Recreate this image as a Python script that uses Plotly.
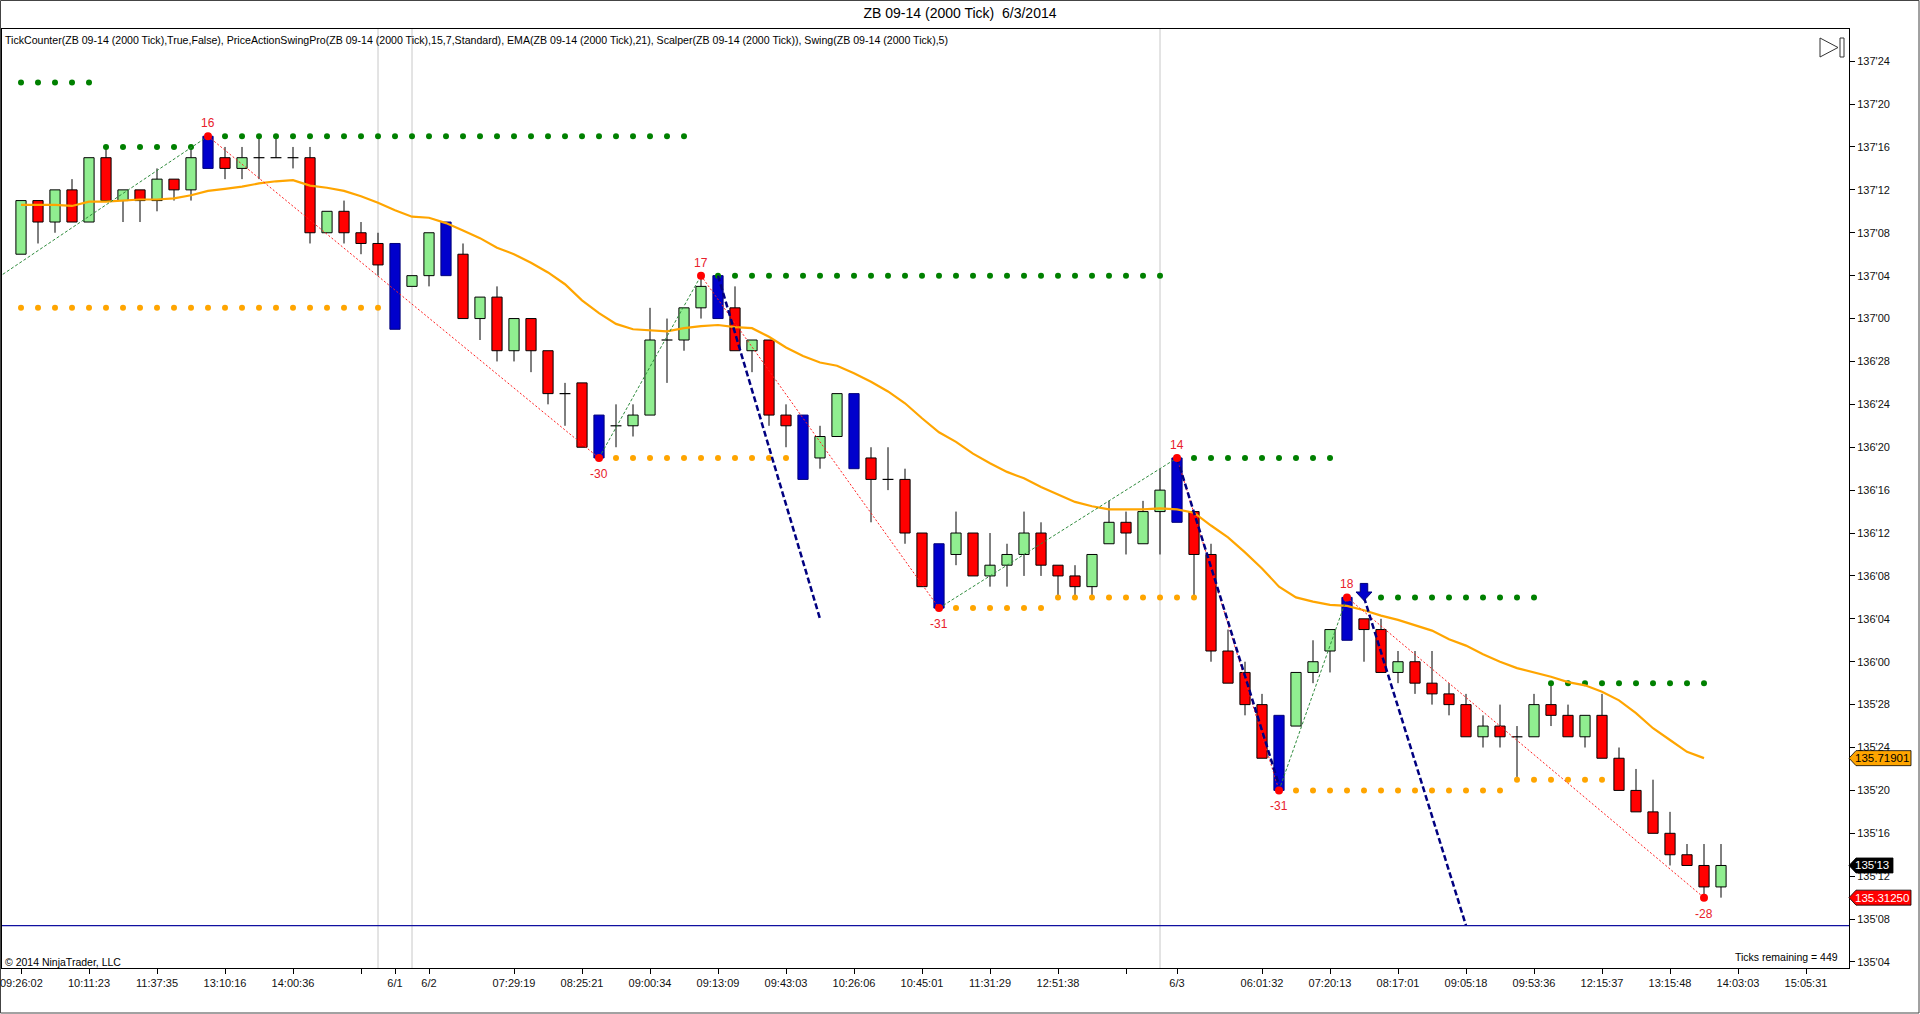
import plotly.graph_objects as go

# ZB 09-14, 2000 tick bars. Prices kept in 32nds above 135'00
opens  = [70, 75, 73, 76, 73, 79, 75, 76, 75, 77, 76, 78, 79, 78, 79, 79, 79, 79, 72, 74,
          72, 71, 71, 67, 68, 72, 70, 64, 66, 61, 64, 61, 57, 58, 54, 54, 54, 55, 62, 62,
          65, 67, 65, 61, 62, 55, 54, 51, 53, 57, 51, 49, 49, 44, 42, 42, 44, 40, 41, 42,
          44, 41, 40, 39, 43, 45, 43, 46, 48, 46, 42, 33, 31, 28, 26, 26, 31, 33, 36, 36,
          35, 31, 32, 30, 29, 28, 25, 26, 25, 25, 28, 27, 25, 27, 23, 20, 18, 16, 14, 13, 11]
highs  = [75, 75, 76, 77, 79, 80, 76, 76, 78, 77, 80, 81, 80, 80, 81, 81, 80, 80, 74, 75,
          73, 72, 71, 68, 72, 73, 71, 66, 67, 64, 64, 61, 58, 58, 55, 56, 56, 65, 64, 65,
          68, 68, 67, 62, 62, 56, 55, 54, 57, 57, 52, 52, 50, 44, 43, 46, 44, 44, 43, 46,
          45, 41, 41, 42, 47, 46, 47, 50, 51, 46, 43, 35, 32, 29, 27, 31, 34, 35, 38, 36,
          36, 33, 33, 33, 30, 29, 27, 28, 26, 29, 30, 28, 27, 29, 24, 22, 21, 18, 15, 15, 15]
lows   = [70, 71, 72, 73, 73, 75, 73, 73, 74, 75, 75, 78, 77, 77, 77, 79, 78, 71, 72, 71,
          70, 68, 63, 67, 67, 68, 64, 62, 60, 60, 59, 56, 54, 52, 51, 52, 53, 55, 58, 61,
          64, 64, 61, 59, 54, 52, 49, 50, 53, 50, 45, 48, 43, 39, 37, 41, 40, 39, 39, 40,
          40, 38, 38, 38, 43, 42, 43, 42, 45, 38, 32, 30, 27, 23, 20, 26, 30, 31, 34, 32,
          31, 30, 29, 28, 27, 25, 24, 24, 21, 25, 26, 25, 24, 23, 20, 18, 16, 13, 13, 10, 10]
closes = [75, 73, 76, 73, 79, 75, 76, 75, 77, 76, 79, 79, 78, 79, 79, 79, 79, 72, 74, 72,
          71, 69, 67, 68, 72, 70, 64, 66, 61, 64, 61, 57, 57, 52, 52, 54, 55, 62, 62, 65,
          67, 65, 61, 62, 55, 54, 51, 53, 57, 51, 49, 49, 44, 39, 39, 44, 40, 41, 42, 44,
          41, 40, 39, 42, 45, 44, 46, 48, 46, 42, 33, 30, 28, 23, 23, 31, 32, 35, 35, 35,
          31, 32, 30, 29, 28, 25, 26, 25, 25, 28, 27, 25, 27, 23, 20, 18, 16, 14, 13, 11, 13]

# bars painted blue by the Scalper indicator
blue_bars = [11, 22, 25, 34, 41, 46, 49, 54, 68, 74, 78]

# EMA(21) (no value on the forming bar)
ema21 = [74.6, 74.6, 74.6, 74.5, 74.9, 74.9, 75.0, 75.1, 75.1, 75.2, 75.5, 75.9, 76.1, 76.3,
         76.6, 76.8, 76.9, 76.4, 76.2, 75.9, 75.4, 74.8, 74.1, 73.5, 73.4, 72.9, 72.2, 71.5,
         70.6, 70.0, 69.2, 68.3, 67.2, 65.7, 64.5, 63.5, 63.0, 62.9, 62.8, 63.1, 63.3, 63.4,
         63.2, 63.1, 62.3, 61.3, 60.5, 59.9, 59.6, 58.9, 58.1, 57.2, 56.1, 54.7, 53.4, 52.5,
         51.4, 50.5, 49.7, 49.1, 48.3, 47.6, 46.9, 46.5, 46.2, 46.2, 46.2, 46.3, 46.2, 45.9,
         44.7, 43.6, 42.2, 40.7, 39.0, 38.0, 37.6, 37.3, 37.2, 36.8, 36.3, 35.9, 35.4, 34.9,
         34.1, 33.5, 32.7, 32.0, 31.4, 31.0, 30.6, 30.1, 29.8, 29.2, 28.4, 27.2, 25.8, 24.7,
         23.6, 23.0083]

tick_pos = [0, 4, 8, 12, 16, 20, 22, 24, 29, 33, 37, 41, 45, 49, 53, 57, 61, 65, 68,
            73, 77, 81, 85, 89, 93, 97, 101, 105]
tick_text = ["09:26:02", "10:11:23", "11:37:35", "13:10:16", "14:00:36", "", "6/1", "6/2",
             "07:29:19", "08:25:21", "09:00:34", "09:13:09", "09:43:03", "10:26:06",
             "10:45:01", "11:31:29", "12:51:38", "", "6/3", "06:01:32", "07:20:13",
             "08:17:01", "09:05:18", "09:53:36", "12:15:37", "13:15:48", "14:03:03", "15:05:31"]
session_breaks = [21, 23, 67]

# Swing(5) levels: level, first bar, last bar
swing_hi_lvl  = [86, 80, 81, 68, 51, 38, 30]
swing_hi_from = [0, 5, 12, 41, 69, 80, 90]
swing_hi_to   = [4, 10, 39, 67, 77, 89, 99]
swing_lo_lvl  = [65, 51, 37, 38, 20, 21]
swing_lo_from = [0, 35, 55, 61, 75, 88]
swing_lo_to   = [21, 45, 60, 69, 87, 93]

# PriceActionSwingPro pivots and swing sizes
pivot_bar = [-4, 11, 34, 40, 54, 68, 74, 78, 99]
pivot_lvl = [65, 81, 51, 68, 37, 51, 20, 38, 10]
pivot_lbl = ["", "16", "-30", "17", "-31", "14", "-31", "18", "-28"]

# dashed projection lines
proj_bar0 = [41, 68, 79]
proj_lvl0 = [68, 51, 38]
proj_bar1 = [47, 74, 85]
proj_lvl1 = [36, 20.5, 7.4]

arrow_bar, arrow_top, arrow_tip = 79, 39.3, 37.7
order_lvl = 7.4

FONT = "Liberation Sans, Arial, sans-serif"


def P(t):
    return 135 + t / 32.0


def fmt32(p):
    whole = int(p)
    return f"{whole}'{int(round((p - whole) * 32)):02d}"


fig = go.Figure()

# wicks (drawn outside the bodies so they never cross them)
wx, wy = [], []
dx, dy = [], []
for i, (o, h, l, c) in enumerate(zip(opens, highs, lows, closes)):
    if i in blue_bars:
        continue
    top, bot = max(o, c), min(o, c)
    if o == c:
        wx += [i, i, None]
        wy += [P(l), P(h), None]
        dx += [i - 0.32, i + 0.32, None]
        dy += [P(o), P(o), None]
        continue
    if h > top:
        wx += [i, i, None]
        wy += [P(top), P(h), None]
    if l < bot:
        wx += [i, i, None]
        wy += [P(l), P(bot), None]
fig.add_trace(go.Scatter(x=wx, y=wy, mode="lines", line=dict(color="black", width=1),
                         hoverinfo="skip", showlegend=False))
fig.add_trace(go.Scatter(x=dx, y=dy, mode="lines", line=dict(color="black", width=1.2),
                         hoverinfo="skip", showlegend=False))

up = [i for i in range(len(opens)) if i not in blue_bars and closes[i] > opens[i]]
dn = [i for i in range(len(opens)) if i not in blue_bars and closes[i] < opens[i]]
for idx, col in ((up, "#90EE90"), (dn, "#FF0000")):
    fig.add_trace(go.Bar(
        x=idx,
        base=[P(min(opens[i], closes[i])) for i in idx],
        y=[P(max(opens[i], closes[i])) - P(min(opens[i], closes[i])) for i in idx],
        width=0.6, marker=dict(color=col, line=dict(color="black", width=1)),
        hoverinfo="skip", showlegend=False))

fig.add_trace(go.Bar(
    x=blue_bars,
    base=[P(lows[i]) for i in blue_bars],
    y=[P(highs[i]) - P(lows[i]) for i in blue_bars],
    width=0.6, marker=dict(color="#0000CC", line=dict(color="#00007A", width=1)),
    hoverinfo="skip", showlegend=False))

# session break lines
for b in session_breaks:
    fig.add_vline(x=b, line=dict(color="#C8C8C8", width=1), layer="below")

# Swing dots
for lvls, f0, f1, col in ((swing_hi_lvl, swing_hi_from, swing_hi_to, "#008000"),
                          (swing_lo_lvl, swing_lo_from, swing_lo_to, "#FFA500")):
    xs, ys = [], []
    for lv, a, b in zip(lvls, f0, f1):
        xs += list(range(a, b + 1))
        ys += [P(lv)] * (b - a + 1)
    fig.add_trace(go.Scatter(x=xs, y=ys, mode="markers", marker=dict(color=col, size=6),
                             hoverinfo="skip", showlegend=False))

# EMA
fig.add_trace(go.Scatter(x=list(range(len(ema21))), y=[P(v) for v in ema21], mode="lines",
                         line=dict(color="#FFA500", width=2.2), hoverinfo="skip", showlegend=False))

# zigzag swing lines
for k in range(len(pivot_bar) - 1):
    rising = pivot_lvl[k + 1] > pivot_lvl[k]
    fig.add_trace(go.Scatter(
        x=[pivot_bar[k], pivot_bar[k + 1]], y=[P(pivot_lvl[k]), P(pivot_lvl[k + 1])],
        mode="lines",
        line=dict(color="#2E8B3C" if rising else "#FF2020", width=1,
                  dash="3px,2px" if rising else "2px,2px"),
        hoverinfo="skip", showlegend=False))

# projection lines
for b0, l0, b1, l1 in zip(proj_bar0, proj_lvl0, proj_bar1, proj_lvl1):
    fig.add_trace(go.Scatter(x=[b0, b1], y=[P(l0), P(l1)], mode="lines",
                             line=dict(color="#000080", width=2.5, dash="6px,3px"),
                             hoverinfo="skip", showlegend=False))

# pivot dots and swing labels
fig.add_trace(go.Scatter(x=pivot_bar[1:], y=[P(v) for v in pivot_lvl[1:]], mode="markers",
                         marker=dict(color="#FF0000", size=8), hoverinfo="skip", showlegend=False))
for b, lv, lb in zip(pivot_bar[1:], pivot_lvl[1:], pivot_lbl[1:]):
    high = not lb.startswith("-")
    fig.add_annotation(x=b, y=P(lv), text=lb, showarrow=False, yshift=13 if high else -16,
                       font=dict(family=FONT, size=12, color="#E8202A"))

# signal arrow (block arrow pointing down)
a = arrow_bar
neck = arrow_tip + (arrow_top - arrow_tip) * 0.5
fig.add_shape(type="path", xref="x", yref="y",
              path=(f"M {a - 0.22},{P(arrow_top)} L {a + 0.22},{P(arrow_top)} L {a + 0.22},{P(neck)} "
                    f"L {a + 0.47},{P(neck)} L {a},{P(arrow_tip)} L {a - 0.47},{P(neck)} "
                    f"L {a - 0.22},{P(neck)} Z"),
              fillcolor="#0000CC", line=dict(color="#00007A", width=1))

# order line
fig.add_hline(y=P(order_lvl), line=dict(color="#1010A0", width=1.2))

# right-side price markers
W, H = 1920, 1014
ML, MR, MT, MB = 2, 71, 29, 46
pw = W - ML - MR


def px2paper(px):
    return (px - ML) / pw


markers = [
    (P(ema21[-1]), f"{P(ema21[-1]):.5f}", "#FFA500", "black"),
    (P(closes[-1]), fmt32(P(closes[-1])), "black", "white"),
    (P(pivot_lvl[-1]), f"{P(pivot_lvl[-1]):.5f}", "#FF0000", "white"),
]
hh = 7.5 / 343.0
for yv, txt, bg, fg in markers:
    x0, x1, x2 = 1.0, px2paper(1856), px2paper(1911 if len(txt) > 6 else 1893)
    fig.add_shape(type="path", xref="paper", yref="y",
                  path=f"M {x0},{yv} L {x1},{yv + hh} L {x2},{yv + hh} L {x2},{yv - hh} L {x1},{yv - hh} Z",
                  fillcolor=bg, line=dict(color="black", width=0.8))
    fig.add_annotation(x=x1, y=yv, xref="paper", yref="y", text=txt, showarrow=False,
                       xanchor="left", xshift=-3, font=dict(family=FONT, size=11.5, color=fg))

# play-to-end icon
ypx = lambda py: (H - MB - py) / (H - MT - MB)
fig.add_shape(type="path", xref="paper", yref="paper",
              path=f"M {px2paper(1820)},{ypx(38)} L {px2paper(1838)},{ypx(47.5)} L {px2paper(1820)},{ypx(57)} Z",
              line=dict(color="#333", width=1), fillcolor="white")
fig.add_shape(type="rect", xref="paper", yref="paper", x0=px2paper(1840), x1=px2paper(1844),
              y0=ypx(57), y1=ypx(38), line=dict(color="#333", width=1), fillcolor="white")

# outer frame of the window
fig.add_shape(type="rect", xref="paper", yref="paper", x0=px2paper(0.5), x1=px2paper(1919),
              y0=ypx(1013), y1=ypx(0.5), line=dict(color="#444", width=1))

indicators = ("TickCounter(ZB 09-14 (2000 Tick),True,False), PriceActionSwingPro(ZB 09-14 (2000 Tick),15,7,Standard), "
              "EMA(ZB 09-14 (2000 Tick),21), Scalper(ZB 09-14 (2000 Tick)), Swing(ZB 09-14 (2000 Tick),5)")
fig.add_annotation(x=px2paper(3), y=ypx(40), xref="paper", yref="paper", text=indicators,
                   showarrow=False, xanchor="left", yanchor="middle",
                   font=dict(family=FONT, size=10.6, color="black"))
fig.add_annotation(x=px2paper(3), y=ypx(962), xref="paper", yref="paper",
                   text="\u00a9 2014 NinjaTrader, LLC", showarrow=False, xanchor="left",
                   yanchor="middle", font=dict(family=FONT, size=10.5, color="black"))
fig.add_annotation(x=px2paper(1840), y=ypx(957), xref="paper", yref="paper",
                   text="Ticks remaining = 449", showarrow=False, xanchor="right",
                   yanchor="middle", font=dict(family=FONT, size=10.5, color="black"))

# first time label sits against the left edge, so it is written as an annotation
fig.add_annotation(x=tick_pos[0], y=ypx(983), xref="x", yref="paper", text=tick_text[0],
                   showarrow=False, xanchor="center", yanchor="middle",
                   font=dict(family=FONT, size=11, color="#111"))
x_ticktext = [""] + tick_text[1:]

ytv = [P(t) for t in range(4, 89, 4)]
fig.update_layout(
    width=W, height=H,
    margin=dict(l=ML, r=MR, t=MT, b=MB),
    paper_bgcolor="white", plot_bgcolor="white",
    barmode="overlay",
    title=dict(text="ZB 09-14 (2000 Tick)  6/3/2014", x=0.5, xanchor="center",
               y=1 - 13 / H, yanchor="middle", font=dict(family=FONT, size=14, color="black")),
    font=dict(family=FONT, size=11, color="black"),
    xaxis=dict(range=[(ML - 21) / 17.0, (W - MR - 21) / 17.0], tickmode="array",
               tickvals=tick_pos, ticktext=x_ticktext, ticks="outside", ticklen=5,
               tickcolor="black", showgrid=False, zeroline=False, showline=True,
               linecolor="black", linewidth=1, mirror=True,
               tickfont=dict(family=FONT, size=11, color="#111")),
    yaxis=dict(side="right", range=[P(3.44), P(91.0)], tickmode="array", tickvals=ytv,
               ticktext=[fmt32(v) for v in ytv], ticks="outside", ticklen=5,
               tickcolor="black", showgrid=False, zeroline=False, showline=True,
               linecolor="black", linewidth=1, mirror=True,
               tickfont=dict(family=FONT, size=11, color="#111")),
)

fig.write_html("out.html", config={"displayModeBar": False},
               post_script="document.body.style.margin='0';document.body.style.overflow='hidden';")
